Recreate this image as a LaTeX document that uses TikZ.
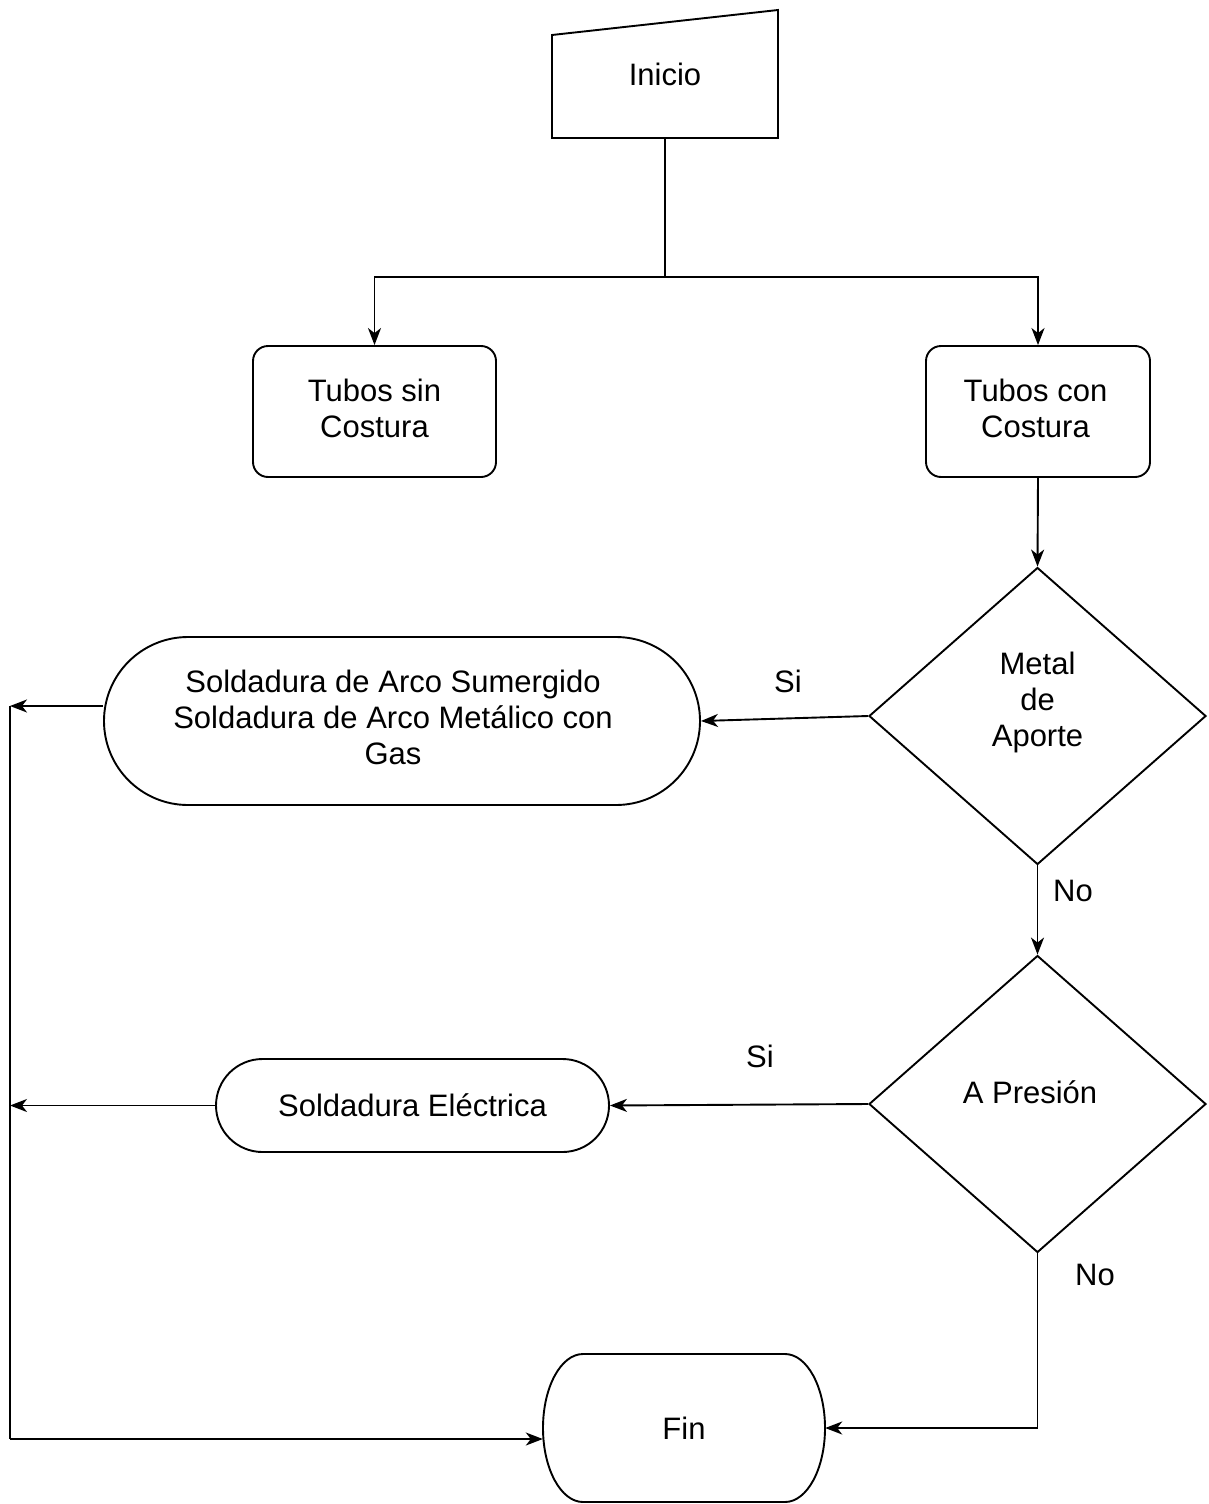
\documentclass[tikz,border=0pt]{standalone}
\usepackage{fontspec}
\setmainfont{Liberation Sans}
\usetikzlibrary{shapes.geometric,arrows.meta}
\begin{document}
\begin{tikzpicture}[x=1pt,y=-1pt,
  txt/.style={font=\fontsize{31}{36}\selectfont, align=center, inner sep=0pt},
  line/.style={line width=1.9pt, draw=black},
  arr/.style={line, -{Stealth[length=17pt,width=13pt,inset=5pt]}},
  procbox/.style={draw, line width=1.9pt, rectangle, rounded corners=15pt,
    minimum width=243pt, minimum height=131pt},
  decision/.style={draw, line width=1.9pt, diamond, inner sep=0pt,
    minimum width=337pt, minimum height=297pt},
  pill/.style={txt, draw, line width=1.9pt, rectangle, rounded corners=#1},
  ghost/.style={txt, rectangle, draw=none}
]
\useasboundingbox (0,0) rectangle (1208,1504);

% start: manual input shape
\draw[line, line join=miter] (552,35) -- (778,10) -- (778,138) -- (552,138) -- cycle;
\node[ghost, minimum width=226pt, minimum height=128pt] (inicio) at (665,74) {Inicio};

% process boxes
\node[procbox] (sin) at (374.5,411.5) {};
\node[txt] (sint) at (374.5,408) {Tubos sin\\Costura};
\node[procbox, minimum width=224pt] (con) at (1038,411.5) {};
\node[txt] (cont) at (1035.5,408) {Tubos con\\Costura};

% decisions
\node[decision] (d1) at (1037.5,716) {};
\node[txt] (d1t) at (1037.5,702) {Metal\\de\\Aporte};
\node[decision] (d2) at (1037.5,1104) {};
\node[txt] (d2t) at (1030,1092) {A Presi\'on};

% welding processes
\node[pill=84pt, minimum width=596pt, minimum height=168pt] (sub) at (402,721) {};
\node[txt] (subt) at (393,717)
  {Soldadura de Arco Sumergido\\Soldadura de Arco Met\'alico con\\Gas};
\node[pill=46.5pt, minimum width=393pt, minimum height=93pt] (elec) at (412.5,1105.5)
  {Soldadura El\'ectrica};

% end terminal
\node[ghost, minimum width=282pt, minimum height=148pt] (fin) at (684,1428) {Fin};
\draw[line] (583,1354) -- (785,1354)
  .. controls (807,1354) and (825,1387) .. (825,1428)
  .. controls (825,1469) and (807,1502) .. (785,1502)
  -- (583,1502)
  .. controls (561,1502) and (543,1469) .. (543,1428)
  .. controls (543,1387) and (561,1354) .. (583,1354) -- cycle;

% connectors
\coordinate (split) at (665,277);
\coordinate (busTop) at (10,706);
\coordinate (busBot) at (10,1439);
\draw[line] (inicio.south) -- (split);
\draw[arr] (split) -| (sin.north);
\draw[arr] (split) -| (con.north);
\draw[arr] (con.south) -- (d1.north);
\draw[arr] (d1.west) -- (sub.east);
\draw[arr] (d1.south) -- (d2.north);
\draw[arr] (d2.west) -- (elec.east);
\draw[arr] (d2.south) |- (fin.east);
\draw[arr] ([yshift=15pt]sub.west) -- (busTop);
\draw[arr] (elec.west) -- (elec.west -| busTop);
\draw[line] (busTop) -- (busBot);
\draw[arr] (busBot) -- (busBot -| fin.west);

% branch labels
\node[txt] (si1) at (788,681) {Si};
\node[txt] (no1) at (1073,891) {No};
\node[txt] (si2) at (760,1056) {Si};
\node[txt] (no2) at (1095,1275) {No};
\end{tikzpicture}
\end{document}
